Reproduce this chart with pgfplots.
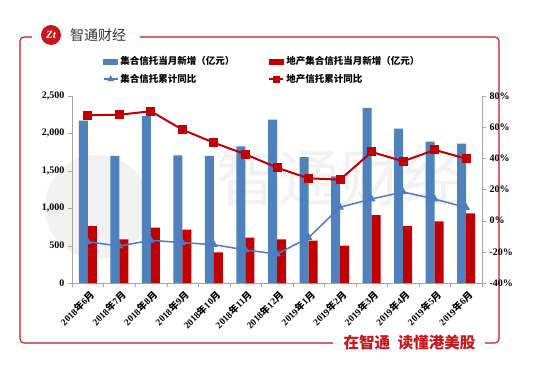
\documentclass[border=0pt]{standalone}
\usepackage{pgfplots}
\pgfplotsset{compat=1.18}
\usepackage{fontspec}
\setmainfont{Liberation Serif}
\newfontfamily\cjk{Noto Sans CJK SC}
\definecolor{barblue}{HTML}{4F81BD}
\definecolor{barred}{HTML}{C00000}
\definecolor{lineblue}{HTML}{4A7CC7}
\definecolor{linered}{HTML}{C00000}
\definecolor{framered}{HTML}{C8161D}
\definecolor{axisgray}{HTML}{A6A6A6}
\pgfplotsset{
  myline legend/.style={legend image code/.code={\draw[##1] (0pt,0pt) -- (14pt,0pt); \draw[##1, mark size=2.5pt] plot coordinates {(7pt,0pt)};}},
  bluepatch legend/.style={legend image code/.code={\fill[barblue] (0pt,-2.5pt) rectangle (14pt,2.5pt);}},
  redpatch legend/.style={legend image code/.code={\fill[barred] (0pt,-2.5pt) rectangle (14pt,2.5pt);}},
}
\newcommand{\ym}[2]{\textbf{#1}{\cjk\bfseries 年}\textbf{#2}{\cjk\bfseries 月}}
\begin{document}
\begin{tikzpicture}
\begin{scope}[x=1pt,y=1pt]
\useasboundingbox[fill=white] (0,0) rectangle (554,378);
% watermark
\fill[black!5] (97,171) circle (52);
\node[black!5, font=\cjk\fontsize{62}{62}\selectfont] at (340,200) {智通财经};
% frame
\draw[framered, line width=1.1pt, rounded corners=4pt] (485,35) -- (499,35) -- (499,341) -- (140,341);
\draw[framered, line width=1.1pt, rounded corners=4pt] (333,35) -- (20,35) -- (20,341) -- (32,341);
\fill[framered] (51,343) circle (10);
\node[white, font=\bfseries\itshape\fontsize{11}{11}\selectfont] at (51,343) {Zt};
\node[anchor=west, text=black!80, font=\cjk\fontsize{14}{14}\selectfont, inner sep=0pt] at (70,343) {智通财经};
\node[text=framered, font=\cjk\bfseries\fontsize{15.5}{15.5}\selectfont, inner sep=0pt] at (409.5,35) {在智通\hspace{0.5em}读懂港美股};
\end{scope}

\begin{axis}[
  at={(72pt,95pt)}, anchor=south west, scale only axis,
  width=410pt, height=187pt,
  xmin=-0.5, xmax=12.5, ymin=0, ymax=2500,
  ytick={0,500,...,2500},
  axis y line*=left, axis x line*=bottom,
  axis line style={axisgray},
  xtick={0,...,12},
  xticklabels={\ym{2018}{6},\ym{2018}{7},\ym{2018}{8},\ym{2018}{9},\ym{2018}{10},\ym{2018}{11},\ym{2018}{12},\ym{2019}{1},\ym{2019}{2},\ym{2019}{3},\ym{2019}{4},\ym{2019}{5},\ym{2019}{6}},
  x tick label style={rotate=45, anchor=north east, font=\fontsize{9.5}{10}\selectfont, inner sep=1pt, yshift=-2pt},
  major x tick style={draw=none},
  minor xtick={-0.5,0.5,...,12.5},
  minor tick length=4pt,
  major tick length=4pt,
  tick align=outside,
  tick style={axisgray},
  y tick label style={font=\bfseries\fontsize{10}{12}\selectfont},
  /pgf/number format/assume math mode=true,
  /pgf/number format/1000 sep={,},
]
\addplot[ybar, bar width=9pt, bar shift=-4.5pt, fill=barblue, draw=none] coordinates {
(0,2170) (1,1698) (2,2233) (3,1707) (4,1698) (5,1827) (6,2183) (7,1684) (8,1426) (9,2340) (10,2063) (11,1889) (12,1863)};
\addplot[ybar, bar width=9pt, bar shift=4.5pt, fill=barred, draw=none] coordinates {
(0,762) (1,584) (2,740) (3,713) (4,410) (5,606) (6,584) (7,566) (8,499) (9,909) (10,762) (11,825) (12,932)};
\end{axis}

\begin{axis}[
  at={(72pt,95pt)}, anchor=south west, scale only axis,
  width=410pt, height=187pt,
  xmin=-0.5, xmax=12.5, ymin=-40, ymax=80,
  ytick={-40,-20,...,80},
  axis y line*=right, axis x line=none,
  axis line style={axisgray},
  tick align=outside, major tick length=4pt,
  tick style={axisgray},
  yticklabel={\pgfmathprintnumber{\tick}\%},
  y tick label style={font=\bfseries\fontsize{10}{12}\selectfont},
  /pgf/number format/assume math mode=true,
  legend columns=2,
  legend cell align=left,
  legend style={draw=none, fill=none, at={(0.075,1.222)}, anchor=north west,
    font=\cjk\bfseries\fontsize{9.5}{11}\selectfont,
    /tikz/every even column/.append style={column sep=32pt},
    row sep=4pt, inner sep=0pt},
]
\addlegendimage{bluepatch legend}
\addlegendentry{集合信托当月新增（亿元）}
\addlegendimage{redpatch legend}
\addlegendentry{地产集合信托当月新增（亿元）}
\addplot[lineblue, line width=1.5pt, mark=triangle*, mark size=3pt, myline legend] coordinates {
(0,-13.5) (1,-16.3) (2,-12.6) (3,-14.1) (4,-15.4) (5,-18.8) (6,-21.4) (7,-10.9) (8,8.6) (9,13.9) (10,18.4) (11,13.9) (12,8.3)};
\addlegendentry{集合信托累计同比}
\addplot[linered, line width=2pt, mark=square*, mark size=3.5pt, myline legend] coordinates {
(0,67.6) (1,68) (2,70.2) (3,58.4) (4,50) (5,42.6) (6,34) (7,27.2) (8,26.3) (9,44.1) (10,38.1) (11,45.4) (12,39.8)};
\addlegendentry{地产信托累计同比}
\end{axis}
\end{tikzpicture}
\end{document}
